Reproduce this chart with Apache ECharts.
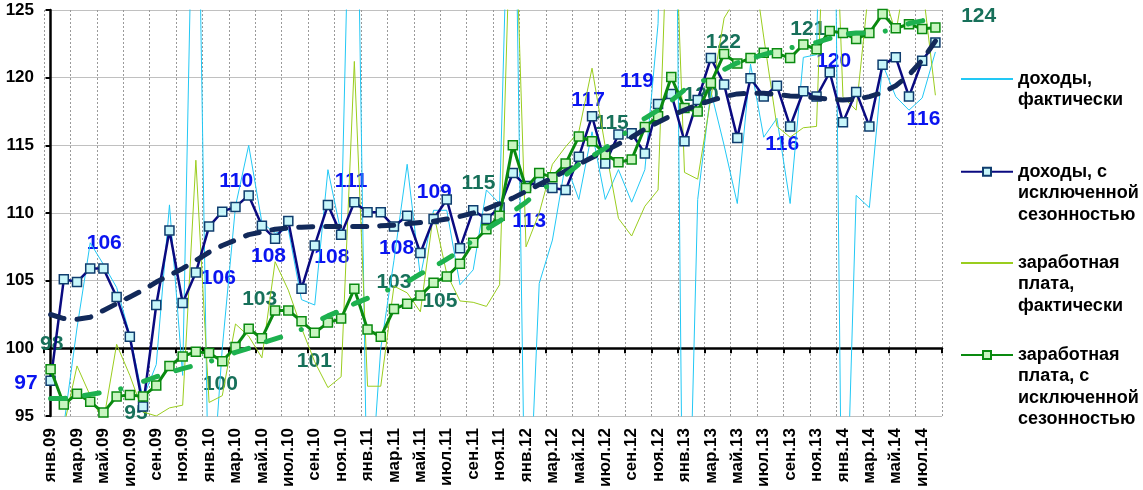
<!DOCTYPE html>
<html><head><meta charset="utf-8">
<script src="https://cdn.jsdelivr.net/npm/echarts@6/dist/echarts.min.js"></script>
<style>html,body{margin:0;padding:0;background:#fff}#c{width:1143px;height:490px}</style>
</head><body><div id="c"></div>
<script>
// ---- categories (months Jan 2009 .. Aug 2014) ----
const monthNames = ['янв','фев','мар','апр','май','июн','июл','авг','сен','окт','ноя','дек'];
const years = ['09','10','11','12','13','14'];
const monthsInLastYear = 8;
const categories = [];
years.forEach((y, k) => {
  const n = k === years.length - 1 ? monthsInLastYear : 12;
  for (let m = 0; m < n; m++) categories.push(monthNames[m] + '.' + y);
});

// ---- series values ----
const incomeActual = [
  85, 94.3, 101.5, 107.8, 106.2, 104.5, 101.0, 96.3, 98.8, 110.6, 98.0, 147,
  86, 100, 110.5, 115.0, 109.3, 108.5, 108.8, 103.6, 103.2, 113.2, 108.5, 150,
  86, 100, 106.5, 113.6, 105.3, 110.2, 110.2, 104.7, 105.8, 111.7, 110.7, 147,
  82, 104.8, 108.0, 113.7, 111.0, 116.0, 111.0, 113.2, 110.8, 113.2, 124, 172,
  72, 111.0, 119, 115, 110.7, 121, 115.6, 117, 110.7, 121.5, 121.7, 170,
  78, 111.3, 110.4, 121, 118.6, 117.6, 118.5, 121.9
];
const incomeSA = [
  97.6, 105.1, 104.9, 105.9, 105.9, 103.8, 100.85, 95.7, 103.2, 108.7, 103.35, 105.6,
  109.0, 110.1, 110.45, 111.3, 109.05, 108.1, 109.4, 104.4, 107.6, 110.6, 108.4, 110.8,
  110.05, 110.05, 109.0, 109.8, 107.05, 109.55, 111.0, 107.4, 110.2, 109.55, 110.4, 112.95,
  112.0, 112.3, 111.85, 111.7, 114.15, 117.15, 113.65, 115.8, 115.9, 114.4, 118.05, 118.8,
  115.3, 118.35, 121.45, 119.5, 115.55, 119.95, 118.6, 119.4, 116.4, 119.0, 118.6, 120.4,
  116.7, 118.95, 116.4, 120.95, 121.5, 118.6, 121.25, 122.6
];
const wageActual = [
  93.5, 94.2, 98.7, 96.5, 94.6, 100.3, 98.0, 95.3, 95.0, 95.6, 95.8, 113.9,
  96.0, 96.5, 101.8, 100.9, 99.3, 106.4, 104.3, 101.5, 99.0, 97.1, 97.9, 121.2,
  97.2, 97.2, 104.6, 104.1, 102.7, 110.0, 105.5, 103.5, 103.4, 103.1, 104.7, 138,
  107.5, 110.0, 113.6, 114.9, 116.0, 120.7, 114.9, 109.6, 108.3, 110.5, 111.7, 140,
  113.0, 112.5, 118.5, 124.4, 126, 130, 123, 116.4, 115.6, 116.3, 116.4, 145,
  118.6, 117.6, 127, 126.5, 123.3, 129, 127, 118.7
];
const wageSA = [
  98.45, 95.85, 96.65, 96.05, 95.25, 96.45, 96.55, 96.45, 97.25, 98.7, 99.4, 99.75,
  99.65, 99.05, 100.1, 101.45, 100.75, 102.8, 102.8, 102.0, 101.15, 101.9, 102.2, 104.4,
  101.4, 100.85, 102.9, 103.3, 103.9, 104.85, 105.3, 106.25, 107.8, 108.8, 109.8, 115.0,
  111.85, 112.95, 112.65, 113.65, 115.65, 115.3, 114.35, 113.75, 113.95, 116.35, 117.15, 120.05,
  117.75, 117.5, 119.6, 121.75, 121.05, 121.45, 121.85, 121.8, 121.45, 122.45, 122.1, 123.45,
  123.3, 122.85, 123.3, 124.7, 123.65, 123.95, 123.6, 123.7
];
const incomeTrend = [
  102.5, 102.2, 102.15, 102.3, 102.8, 103.3, 103.8, 104.3, 104.9, 105.4, 105.9, 106.5,
  107.1, 107.6, 108.0, 108.4, 108.6, 108.8, 108.9, 108.95, 109.0, 109.0, 109.0, 109.0,
  109.0, 109.05, 109.1, 109.2, 109.3, 109.4, 109.55, 109.75, 110.0, 110.3, 110.7, 111.1,
  111.6, 112.1, 112.6, 113.1, 113.6, 114.1, 114.6, 115.1, 115.6, 116.2, 116.7, 117.2,
  117.6, 118.0, 118.3, 118.6, 118.8, 118.85, 118.85, 118.75, 118.65, 118.6, 118.5, 118.4,
  118.35, 118.4, 118.6, 118.9, 119.4, 120.2, 121.3, 122.7
];
const wageTrend = [
  96.3, 96.3, 96.4, 96.6, 96.75, 96.9, 97.25, 97.55, 97.9, 98.2, 98.5, 98.75,
  99.0, 99.35, 99.7, 100.0, 100.4, 100.7, 101.0, 101.4, 101.9, 102.4, 102.8, 103.3,
  103.7, 104.1, 104.5, 104.9, 105.5, 106.0, 106.6, 107.2, 108.0, 108.8, 109.4, 110.1,
  110.8, 111.6, 112.2, 112.8, 113.6, 114.2, 114.8, 115.5, 116.3, 117.0, 117.6, 118.3,
  119.1, 119.6, 120.0, 120.6, 121.1, 121.4, 121.7, 122.0, 122.2, 122.4, 122.6, 122.9,
  123.2, 123.3, 123.3, 123.4, 123.6, 124.0, 124.2, 124.5
];

// ---- value axis ----
const yMin = 95, yMax = 125, yStep = 5;

// ---- annotations: [month index, value, text] in data space ----
const incomeNotes = [
  [4.06, 107.8, '106'], [-1.86, 97.4, '97'], [14.05, 112.37, '110'], [12.7, 105.15, '106'],
  [16.5, 106.8, '108'], [21.3, 106.77, '108'], [22.76, 112.36, '111'], [26.2, 107.4, '108'],
  [29.05, 111.53, '109'], [36.24, 109.4, '113'], [40.7, 118.36, '117'], [44.4, 119.77, '119'],
  [55.4, 115.1, '116'], [59.3, 121.25, '120'], [66.1, 116.94, '116']
];
const wageNotes = [
  [0.08, 100.34, '98'], [6.47, 95.17, '95'], [12.86, 97.38, '100'], [15.83, 103.66, '103'],
  [19.97, 99.04, '101'], [26.0, 104.89, '103'], [29.48, 103.47, '105'], [32.4, 112.17, '115'],
  [42.5, 116.67, '115'], [49.26, 118.73, '120'], [50.94, 122.64, '122'], [57.34, 123.58, '121'],
  [70.28, 124.54, '124']
];

const names = [
  'доходы,\nфактически',
  'доходы, с\nисключенной\nсезонностью',
  'заработная\nплата,\nфактически',
  'заработная\nплата, с\nисключенной\nсезонностью'
];

// ---- layout / style ----
const W = 1143, H = 490;
const grid = { left: 44, right: 201, top: 10, bottom: 74 };
const gridH = H - grid.top - grid.bottom;
const crossOffset = -gridH * (100 - yMin) / (yMax - yMin);
const FONT = "'Liberation Sans', Arial, sans-serif";
const LH = 21.5;
const legendIconY = [79, 171.7, 263, 355];
const noMarker = [true, false, true, false];

const chart = echarts.init(document.getElementById('c'), null, { renderer: 'canvas' });

const legends = names.map((nm, k) => {
  const n = nm.split('\n').length;
  const item = { name: nm };
  if (noMarker[k]) item.itemStyle = { opacity: 0 };
  return {
    data: [item], orient: 'vertical', left: 960,
    top: legendIconY[k] - (2 * n - 1) * LH / 2,
    padding: 0, itemWidth: 52, itemHeight: 10, selectedMode: false,
    formatter: s => '\n'.repeat(n - 1) + s,
    textStyle: { fontFamily: FONT, fontSize: 18, fontWeight: 'bold', color: '#000', lineHeight: LH }
  };
});

function noteSeries(notes, color) {
  return {
    type: 'scatter', xAxisIndex: 2, yAxisIndex: 0, z: 1, silent: true, clip: false,
    symbolSize: 1, itemStyle: { color: 'transparent', opacity: 1 },
    data: notes.map(n => [n[0], n[1], n[2]]),
    label: { show: true, position: 'inside', formatter: p => p.data[2], opacity: 1,
      fontFamily: FONT, fontSize: 21, fontWeight: 'bold', color: color }
  };
}

const option = {
  animation: false,
  backgroundColor: '#fff',
  grid: grid,
  legend: legends,
  xAxis: [
    { type: 'category', data: categories, boundaryGap: true, position: 'bottom',
      axisLine: { show: false }, axisTick: { show: false },
      axisLabel: { interval: 1, rotate: 90, margin: 12, fontFamily: FONT, fontSize: 17,
        fontWeight: 'bold', color: '#000' },
      splitLine: { show: true, interval: 1, lineStyle: { color: '#9a9a9a', type: [2, 2], width: 1 } } },
    { type: 'category', data: categories, boundaryGap: true, position: 'bottom', offset: crossOffset,
      axisLine: { show: true, lineStyle: { color: '#000', width: 2.5 } },
      axisTick: { show: true, interval: 1, inside: false, length: 5, lineStyle: { color: '#000', width: 2 } },
      axisLabel: { show: false }, splitLine: { show: false } },
    { type: 'value', min: -0.5, max: categories.length - 0.5, show: false }
  ],
  yAxis: [
    { type: 'value', min: yMin, max: yMax, interval: yStep,
      axisLine: { show: true, lineStyle: { color: '#000', width: 2.5 } },
      axisTick: { show: true, length: 5, lineStyle: { color: '#000', width: 2 } },
      axisLabel: { margin: 10, fontFamily: FONT, fontSize: 17, fontWeight: 'bold', color: '#000' },
      splitLine: { show: true, lineStyle: { color: '#c0c0c0', width: 1 } } }
  ],
  series: [
    { name: names[0], type: 'line', data: incomeActual, symbol: 'none', z: 2,
      lineStyle: { color: '#22c8f5', width: 1 }, itemStyle: { color: '#22c8f5' } },
    { name: names[2], type: 'line', data: wageActual, symbol: 'none', z: 2,
      lineStyle: { color: '#9acd1e', width: 1 }, itemStyle: { color: '#9acd1e' } },
    { name: names[1], type: 'line', data: incomeSA, symbol: 'rect', symbolSize: 9, showAllSymbol: true, z: 3,
      lineStyle: { color: '#0a0a80', width: 2.5 },
      itemStyle: { color: '#c8f6fa', borderColor: '#0f3d6e', borderWidth: 1.5 } },
    { name: names[3], type: 'line', data: wageSA, symbol: 'rect', symbolSize: 9, showAllSymbol: true, z: 4,
      lineStyle: { color: '#0a8a10', width: 3 },
      itemStyle: { color: '#c8f5c0', borderColor: '#0a8a10', borderWidth: 1.5 } },
    { name: 'trendIncome', type: 'line', data: incomeTrend, symbol: 'none', z: 5, silent: true,
      lineStyle: { color: '#12295a', width: 5, type: [14, 13], cap: 'round' } },
    { name: 'trendWage', type: 'line', data: wageTrend, symbol: 'none', z: 5, silent: true,
      lineStyle: { color: '#1db14f', width: 5, type: [15, 19, 15, 22, 0.1, 24], cap: 'round' } },
    noteSeries(incomeNotes, '#0a14f0'),
    noteSeries(wageNotes, '#17705a')
  ]
};
chart.setOption(option);
</script></body></html>
